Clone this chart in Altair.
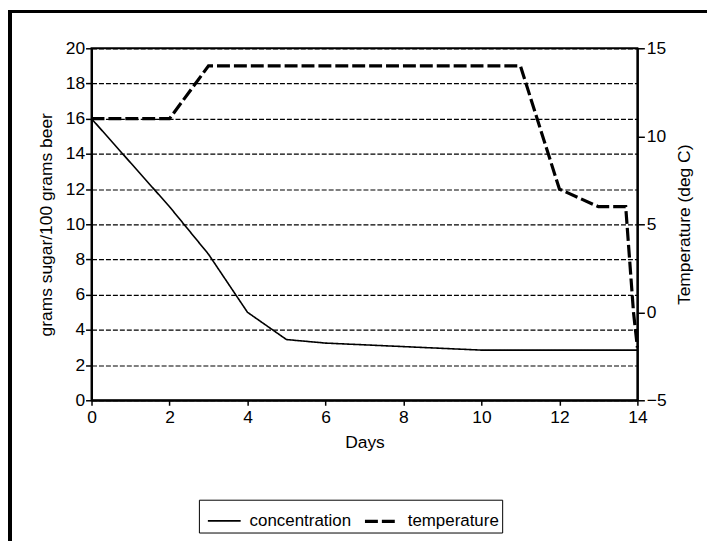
import altair as alt
import pandas as pd

# ---- data ----
conc_days = [0, 1, 2, 3, 4, 5, 6, 7, 8, 9, 10, 11, 12, 13, 14]
conc_vals = [16, 13.5, 11, 8.3, 5.0, 3.45, 3.25, 3.15, 3.05, 2.95, 2.85, 2.85, 2.85, 2.85, 2.85]

temp_days = [0, 1, 2, 3, 4, 5, 6, 7, 8, 9, 10, 11, 12, 13, 13.7, 13.9, 14]
temp_vals = [11, 11, 11, 14, 14, 14, 14, 14, 14, 14, 14, 14, 7, 6, 6, 0, -2]

series_names = ["concentration", "temperature"]
x_ticks = [0, 2, 4, 6, 8, 10, 12, 14]
y_left_ticks = [0, 2, 4, 6, 8, 10, 12, 14, 16, 18, 20]
y_right_ticks = [-5, 0, 5, 10, 15]

df = pd.concat([
    pd.DataFrame({"day": conc_days, "value": conc_vals, "series": series_names[0]}),
    pd.DataFrame({"day": temp_days, "value": temp_vals, "series": series_names[1]}),
])

FONT = "Liberation Sans"
W, H = 549, 354

x_enc = alt.X("day:Q", scale=alt.Scale(domain=[0, 14], nice=False),
              axis=alt.Axis(values=x_ticks, title="Days", grid=False, labelFlush=False,
                            titleX=W / 2, titleY=42, titleAlign="center",
                            titleBaseline="middle", tickSize=5, labelPadding=3))

dash_enc = alt.StrokeDash("series:N", scale=alt.Scale(domain=series_names, range=[[1, 0], [13, 4]]),
                          legend=alt.Legend(title=None))
width_enc = alt.StrokeWidth("series:N", scale=alt.Scale(domain=series_names, range=[1.6, 3.2]),
                            legend=alt.Legend(title=None))

conc = alt.Chart(df).transform_filter(alt.datum.series == "concentration").mark_line(color="black").encode(
    x=x_enc,
    y=alt.Y("value:Q", scale=alt.Scale(domain=[0, 20], nice=False),
            axis=alt.Axis(values=y_left_ticks, title="grams sugar/100 grams beer", grid=True,
                          gridDash=[5, 2], gridColor="black", gridWidth=1.2,
                          tickSize=6, labelPadding=1, labelFlush=False,
                          titleX=-45, titleY=H / 2, titleAngle=270, titleAlign="center",
                          titleBaseline="middle")),
    strokeDash=dash_enc,
    strokeWidth=width_enc,
)

temp = alt.Chart(df).transform_filter(alt.datum.series == "temperature").mark_line(color="black").encode(
    x=x_enc,
    y=alt.Y("value:Q", scale=alt.Scale(domain=[-5, 15], nice=False),
            axis=alt.Axis(values=y_right_ticks, orient="right", title="Temperature (deg C)", grid=False,
                          tickSize=7, labelPadding=2, labelFlush=False,
                          titleX=47, titleY=H / 2, titleAngle=270, titleAlign="center",
                          titleBaseline="middle")),
    strokeDash=dash_enc,
    strokeWidth=width_enc,
)

border_top = alt.Chart(df).mark_rule(color="black", strokeWidth=3).encode(
    x=alt.value(-82), x2=alt.value(700), y=alt.value(-37))
border_left = alt.Chart(df).mark_rule(color="black", strokeWidth=3).encode(
    x=alt.value(-82), y=alt.value(-38), y2=alt.value(600))

chart = alt.layer(conc, temp, border_top, border_left).resolve_scale(y="independent").properties(
    width=W, height=H,
    autosize=alt.AutoSizeParams(type="none"),
    padding={"left": 84, "top": 39, "right": 70, "bottom": 140},
).configure_view(stroke="black", strokeWidth=2).configure_axis(
    domainColor="black", domainWidth=2, tickColor="black", tickWidth=1.5,
    labelColor="black", titleColor="black", labelFont=FONT, titleFont=FONT,
    labelFontSize=17.5, titleFontSize=17.5, titleFontWeight="normal",
).configure_legend(
    orient="none", legendX=108, legendY=454, direction="horizontal",
    strokeColor="black", padding=3, symbolOffset=5, symbolType="stroke", symbolSize=1089,
    symbolStrokeColor="black", labelFont=FONT, labelFontSize=17, labelColor="black",
    labelOffset=8, columnPadding=6,
)

chart.save("out.html", embed_options={"renderer": "svg", "actions": False})
